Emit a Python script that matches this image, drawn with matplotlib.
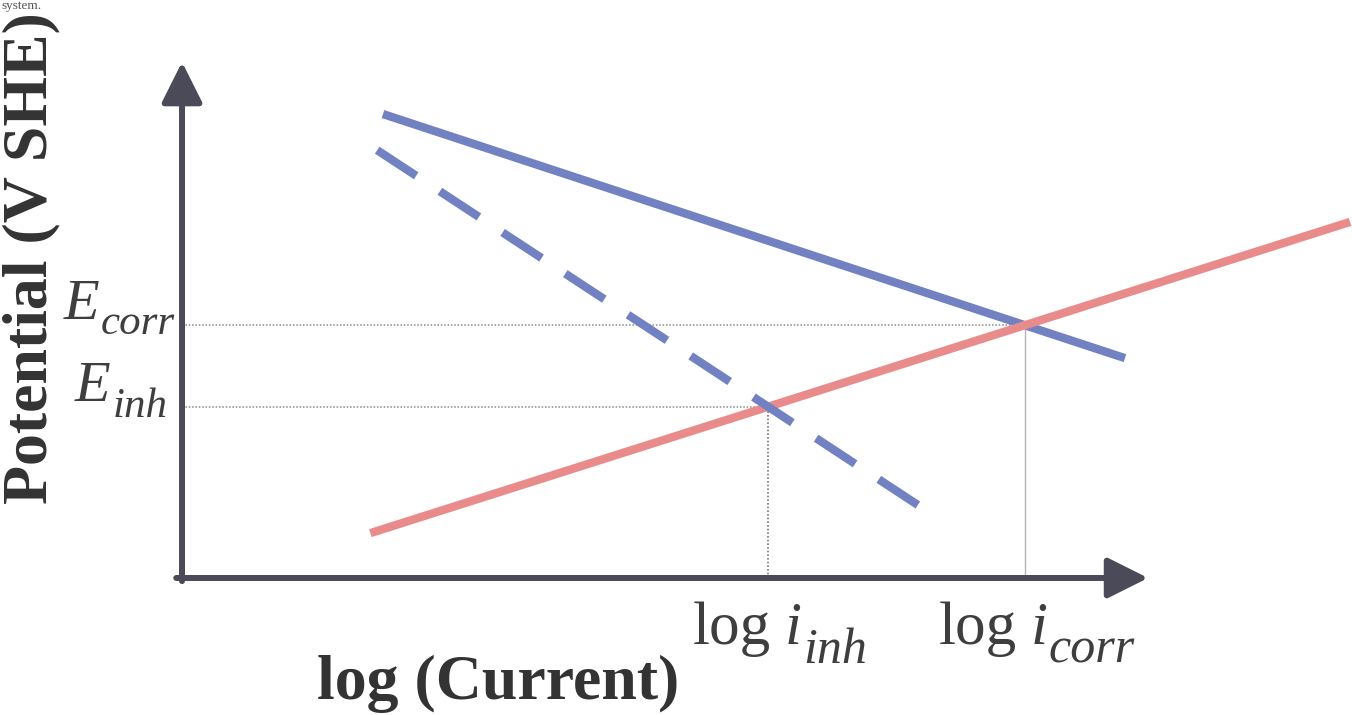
import matplotlib
matplotlib.use("Agg")
import matplotlib.pyplot as plt

# Tafel lines: (log current, potential) end points, arbitrary units
cathodic_x = [2.08, 9.76]          # uninhibited cathodic branch
cathodic_y = [8.99, 4.26]
cathodic_inh_x = [2.02, 7.62]      # cathodic branch with inhibitor
cathodic_inh_y = [8.29, 1.41]
anodic_x = [1.95, 12.09]           # anodic branch
anodic_y = [0.87, 6.90]

axis_len_x = 10.0
axis_len_y = 10.0

xlabel = "log (Current)"
ylabel = "Potential (V SHE)"
e_symbol = "E"
i_symbol = "i"
corr_sub = "corr"
inh_sub = "inh"
log_text = "log"
caption_tail = "system."

BLUE = "#7281c2"
RED = "#e98b8b"
AXIS = "#4a4a58"
TEXT = "#3e3e3e"
SERIF = "Liberation Serif"


def line_coeffs(xs, ys):
    m = (ys[1] - ys[0]) / (xs[1] - xs[0])
    return m, ys[0] - m * xs[0]


def intersect(l1, l2):
    m1, b1 = line_coeffs(*l1)
    m2, b2 = line_coeffs(*l2)
    x = (b2 - b1) / (m1 - m2)
    return x, m1 * x + b1


corr = intersect((cathodic_x, cathodic_y), (anodic_x, anodic_y))
inh = intersect((cathodic_inh_x, cathodic_inh_y), (anodic_x, anodic_y))

fig = plt.figure(figsize=(13.52, 7.15), dpi=100)
ax = fig.add_axes([0, 0, 1, 1])
ax.set_xlim(-1.884, 12.11)
ax.set_ylim(-2.655, 11.20)
ax.axis("off")
renderer = fig.canvas.get_renderer()


def compose(anchor, parts, align, offset):
    """Lay out text pieces left to right; parts = (text, size, style, dy_pt, gap_pt)."""
    items, x = [], 0.0
    for txt, size, style, dy, gap in parts:
        x += gap
        a = ax.annotate(txt, xy=anchor, xytext=(x, dy), textcoords="offset points",
                        ha="left", va="baseline", fontsize=size, fontstyle=style,
                        family=SERIF, color=TEXT, annotation_clip=False)
        x += a.get_window_extent(renderer).width * 72 / fig.dpi
        items.append(a)
    shift = {"left": 0.0, "center": -x / 2, "right": -x}[align] + offset
    for a in items:
        a.xyann = (a.xyann[0] + shift, a.xyann[1])


# guide lines to the two intersection points
for x0, y0 in (corr, inh):
    ax.plot([0, x0], [y0, y0], color="#8a8a8a", lw=1.1, ls=(0, (1, 1.2)), zorder=1)
ax.plot([inh[0], inh[0]], [0, inh[1]], color="#777777", lw=1.2, ls=(0, (1, 1.2)), zorder=1)
ax.plot([corr[0], corr[0]], [0, corr[1]], color="#b5b5b5", lw=1.0, ls="-", zorder=1)

# polarisation lines
ax.plot(anodic_x, anodic_y, color=RED, lw=6, solid_capstyle="butt", zorder=3)
ax.plot(cathodic_x, cathodic_y, color=BLUE, lw=6, solid_capstyle="butt", zorder=2)
ax.plot(cathodic_inh_x, cathodic_inh_y, color=BLUE, lw=6, ls=(0, (5.6, 3.4)),
        dash_capstyle="butt", zorder=4)

# axes with arrow heads
arrow = dict(arrowstyle="-|>,head_length=2.5,head_width=1.25", color=AXIS,
             lw=4.3, shrinkA=0, shrinkB=0, mutation_scale=10)
ax.annotate("", xy=(axis_len_x, 0), xytext=(-0.06, 0), arrowprops=arrow, zorder=5)
ax.annotate("", xy=(0, axis_len_y), xytext=(0, -0.06), arrowprops=arrow, zorder=5)

# axis titles
ax.text(-1.56, 6.20, ylabel, rotation=90, ha="center", va="center",
        fontsize=46, fontweight="bold", family=SERIF, color="#333333")
ax.text(3.27, -2.05, xlabel, ha="center", va="center",
        fontsize=46, fontweight="bold", family=SERIF, color="#333333")

# potential labels
compose((0, corr[1]), [(e_symbol, 42, "italic", 4.3, 0), (corr_sub, 31, "italic", -6.5, 1.5)],
        "right", -5)
compose((0, inh[1]), [(e_symbol, 42, "italic", 4.3, 0), (inh_sub, 31, "italic", -7.2, 1.5)],
        "right", -10.5)

# current labels
for (x0, _), sub in ((corr, corr_sub), (inh, inh_sub)):
    compose((x0, 0), [(log_text, 44, "normal", -47.5, 0),
                      (i_symbol, 44, "italic", -47.5, 10),
                      (sub, 36, "italic", -61, 1)],
            "center", 8.6)

# tail of the preceding caption line
ax.annotate(caption_tail, xy=(0, 1), xycoords="axes fraction", xytext=(1, 0),
            textcoords="offset points", ha="left", va="top", fontsize=9.5,
            family=SERIF, color="#555555", annotation_clip=False)

fig.savefig("out.png", dpi=100)
